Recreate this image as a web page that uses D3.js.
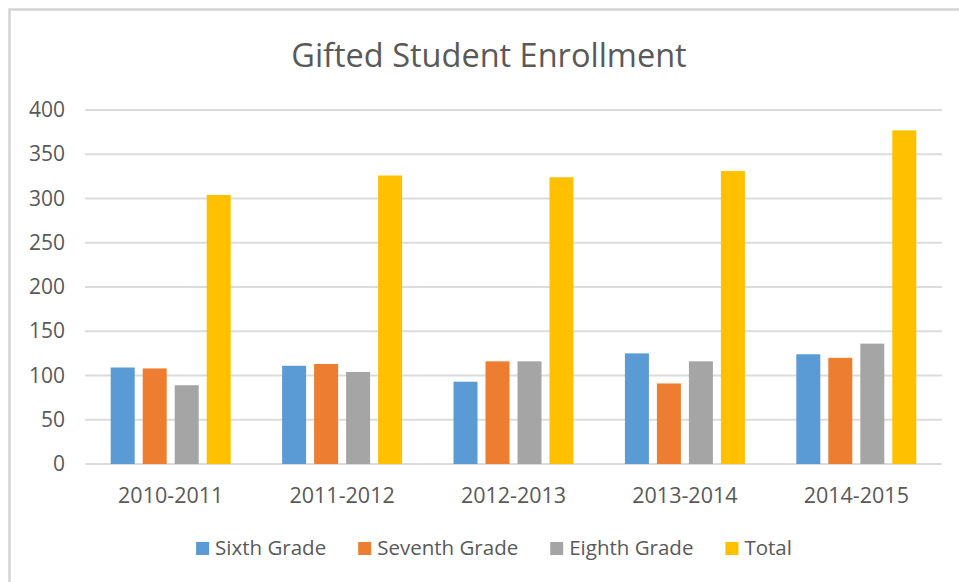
<!DOCTYPE html>
<html>
<head>
<meta charset="utf-8">
<script src="https://cdn.jsdelivr.net/npm/d3@7"></script>
<style>
  body { margin: 0; background: #fff; }
  svg { display: block; font-family: 'Open Sans', sans-serif; }
  .grid line { stroke: #dcdcdc; stroke-width: 2; }
  .label { fill: #595959; }
</style>
</head>
<body>
<svg></svg>
<script>
const SVG_WIDTH = 959;
const SVG_HEIGHT = 582;

const years = ['2010-2011', '2011-2012', '2012-2013', '2013-2014', '2014-2015'];
const seriesNames = ['Sixth Grade', 'Seventh Grade', 'Eighth Grade', 'Total'];
const sixthGrade = [109, 111, 93, 125, 124];
const seventhGrade = [108, 113, 116, 91, 120];
const eighthGrade = [89, 104, 116, 116, 136];
const total = [304, 326, 324, 331, 377];
const yTicks = [0, 50, 100, 150, 200, 250, 300, 350, 400];
const colors = ['#5b9bd5', '#ed7d31', '#a5a5a5', '#ffc000'];

const seriesValues = [sixthGrade, seventhGrade, eighthGrade, total];

const svg = d3
  .select('svg')
  .attr('width', SVG_WIDTH)
  .attr('height', SVG_HEIGHT);

// Chart frame, only the top and left edges show in the picture.
svg
  .append('rect')
  .attr('x', 9.5)
  .attr('y', 9.5)
  .attr('width', 1000)
  .attr('height', 1000)
  .attr('fill', 'none')
  .attr('stroke', '#d4d4d4')
  .attr('stroke-width', 2.5);

const x0 = d3
  .scaleBand()
  .domain(years)
  .range([85, 942])
  .paddingInner(0.3)
  .paddingOuter(0.15);

const x1 = d3
  .scaleBand()
  .domain(seriesNames)
  .range([0, x0.bandwidth()])
  .paddingInner(0.25);

const y = d3.scaleLinear().domain([0, 400]).range([464, 110]);

// Gridlines
svg
  .append('g')
  .attr('class', 'grid')
  .selectAll('line')
  .data(yTicks)
  .join('line')
  .attr('x1', 85)
  .attr('x2', 942)
  .attr('y1', d => y(d))
  .attr('y2', d => y(d));

// Y axis labels
const yAxis = svg
  .append('g')
  .attr('transform', 'translate(65,0)')
  .call(d3.axisLeft(y).tickValues(yTicks).tickSize(0).tickPadding(0));
yAxis.select('.domain').remove();
yAxis
  .selectAll('text')
  .attr('class', 'label')
  .attr('fill', null)
  .style('font-size', '21px')
  .style('font-family', "'Open Sans', sans-serif");

// X axis labels
const xAxis = svg
  .append('g')
  .attr('transform', 'translate(0,464)')
  .call(d3.axisBottom(x0).tickSize(0).tickPadding(0));
xAxis.select('.domain').remove();
xAxis
  .selectAll('text')
  .attr('class', 'label')
  .attr('fill', null)
  .attr('dy', null)
  .attr('y', 39)
  .style('font-size', '21.5px')
  .style('font-family', "'Open Sans', sans-serif");

// Bars
const groups = svg
  .append('g')
  .selectAll('g')
  .data(years)
  .join('g')
  .attr('transform', d => `translate(${x0(d)},0)`);

groups
  .selectAll('rect')
  .data((d, i) => seriesNames.map((name, s) => ({name, s, value: seriesValues[s][i]})))
  .join('rect')
  .attr('x', d => x1(d.name))
  .attr('width', x1.bandwidth())
  .attr('y', d => y(d.value))
  .attr('height', d => y(0) - y(d.value))
  .attr('fill', d => colors[d.s]);

// Title
svg
  .append('text')
  .attr('class', 'label')
  .attr('x', 489)
  .attr('y', 67)
  .attr('text-anchor', 'middle')
  .style('font-size', '32.5px')
  .text('Gifted Student Enrollment');

// Legend, laid out from measured text widths and centred.
const legend = svg.append('g');
let cursor = 0;
seriesNames.forEach((name, i) => {
  const item = legend.append('g').attr('transform', `translate(${cursor},0)`);
  item
    .append('rect')
    .attr('x', 0)
    .attr('y', -13)
    .attr('width', 13)
    .attr('height', 13)
    .attr('fill', colors[i]);
  const t = item
    .append('text')
    .attr('class', 'label')
    .attr('x', 19)
    .attr('y', 0)
    .style('font-size', '20.5px')
    .text(name);
  cursor += 19 + t.node().getComputedTextLength() + 32;
});
const legendWidth = cursor - 32;
legend.attr('transform', `translate(${494 - legendWidth / 2},555)`);
</script>
</body>
</html>
